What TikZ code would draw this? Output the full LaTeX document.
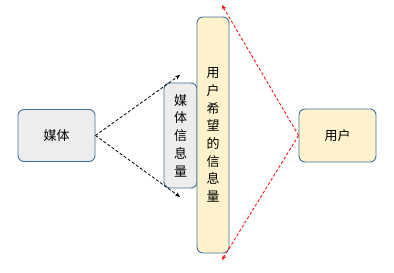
\documentclass[tikz,border=0pt]{standalone}
\usepackage{fontspec}
\setmainfont{Noto Sans CJK SC}
\usetikzlibrary{arrows.meta}
\definecolor{bordc}{HTML}{41719C}
\definecolor{grayf}{HTML}{EDEDED}
\definecolor{yelf}{HTML}{FFF2CC}
\tikzset{
  boxbase/.style={draw=bordc, line width=0.9pt, rounded corners=6pt, inner sep=0pt, font=\fontsize{13}{17.7}\selectfont, align=center},
  grayb/.style={boxbase, fill=grayf},
  yelb/.style={boxbase, fill=yelf},
  blkarrow/.style={draw=black, line width=0.8pt, dash pattern=on 3pt off 2pt, -{Stealth[length=5pt,width=4pt]}},
  redarrow/.style={draw=red, line width=0.8pt, dash pattern=on 3pt off 2pt, -{Stealth[length=5pt,width=4pt]}}
}
\begin{document}
\begin{tikzpicture}[x=1pt,y=1pt]
\useasboundingbox (0,0) rectangle (394,273);
\node[grayb, minimum width=77pt, minimum height=52pt] (media) at (56.5,137.5) {媒体};
\node[grayb, minimum width=33pt, minimum height=105pt] (minfo) at (180.5,137.5) {媒\\体\\信\\息\\量};
\node[yelb, minimum width=32pt, minimum height=236pt] (uinfo) at (213,138) {用\\户\\希\\望\\的\\信\\息\\量};
\node[yelb, minimum width=77pt, minimum height=53pt] (user) at (337.5,137.5) {用户};
\coordinate (bt) at (180,198);
\coordinate (bb) at (180,76);
\coordinate (rt) at (222,268);
\coordinate (rb) at (222,13);
\draw[blkarrow] (media.east) -- (bt);
\draw[blkarrow] (media.east) -- (bb);
\draw[redarrow] (user.west) -- (rt);
\draw[redarrow] (user.west) -- (rb);
\end{tikzpicture}
\end{document}
